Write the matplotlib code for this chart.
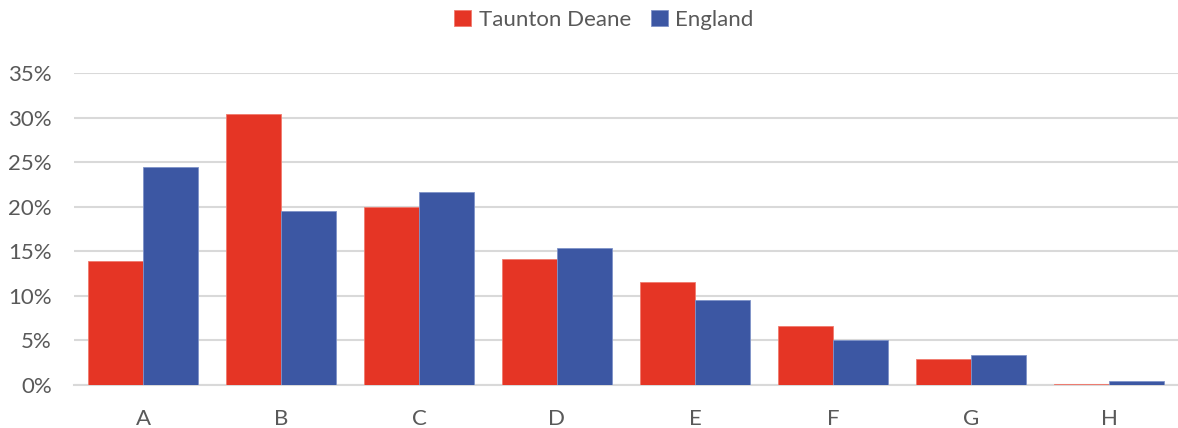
import matplotlib.pyplot as plt
import numpy as np
from matplotlib.ticker import PercentFormatter

categories = ['A', 'B', 'C', 'D', 'E', 'F', 'G', 'H']
taunton_deane = [13.9, 30.4, 20.0, 14.1, 11.5, 6.6, 2.9, 0.15]
england = [24.4, 19.5, 21.7, 15.4, 9.5, 5.0, 3.4, 0.5]

red = '#E53525'
blue = '#3C57A3'
grey_text = '#595959'
grid_col = '#D9D9D9'

plt.rcParams['font.family'] = ['Lato', 'DejaVu Sans']

fig = plt.figure(figsize=(11.78, 4.28), dpi=100)
ax = fig.add_axes([74 / 1178, 1 - 385 / 428, 1 - 74 / 1178, (385 - 73) / 428])

x = np.arange(len(categories))
w = 0.4
ax.bar(x - w / 2, taunton_deane, w, color=red, edgecolor='#F07A6E', linewidth=0.6,
       label='Taunton Deane', zorder=3)
ax.bar(x + w / 2, england, w, color=blue, edgecolor='#7F93C8', linewidth=0.6,
       label='England', zorder=3)

ax.set_xlim(-0.5, len(categories) - 0.5)
ax.set_ylim(0, 35)
ax.set_yticks(np.arange(0, 36, 5))
ax.yaxis.set_major_formatter(PercentFormatter(decimals=0))
ax.set_xticks(x)
ax.set_xticklabels(categories)

ax.grid(axis='y', color=grid_col, linewidth=1.5, zorder=0)
for s in ['top', 'right', 'left']:
    ax.spines[s].set_visible(False)
ax.spines['bottom'].set_color(grid_col)
ax.spines['bottom'].set_linewidth(1.5)
ax.tick_params(axis='both', length=0, labelsize=16, colors=grey_text)
ax.tick_params(axis='x', pad=17)
ax.tick_params(axis='y', pad=16)

leg = fig.legend(loc='center', bbox_to_anchor=(604 / 1178, 1 - 20 / 428), ncol=2,
                 frameon=False, fontsize=16, handlelength=0.75, handleheight=0.75,
                 handletextpad=0.35, columnspacing=0.9)
for t in leg.get_texts():
    t.set_color(grey_text)

fig.savefig('out.png', dpi=100)
